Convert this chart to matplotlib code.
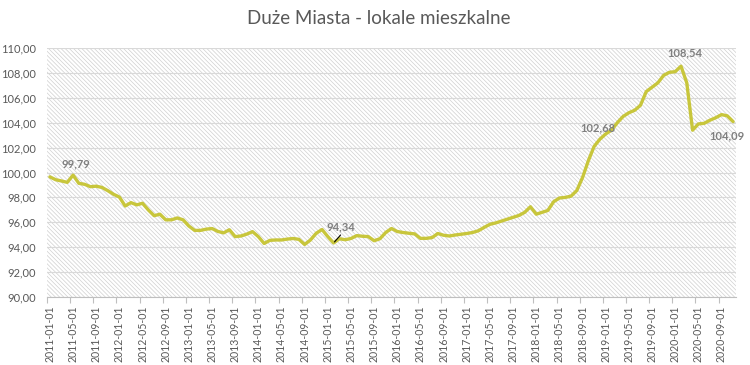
import matplotlib
matplotlib.use("Agg")
import matplotlib.pyplot as plt
from matplotlib.patches import Rectangle
import pandas as pd

plt.rcParams['font.family'] = ['Lato', 'DejaVu Sans']
plt.rcParams['hatch.linewidth'] = 0.5

title = "Duże Miasta - lokale mieszkalne"
dates = pd.date_range('2011-01-01', periods=119, freq='MS')
values = [
    99.65, 99.42, 99.32, 99.21, 99.79, 99.13, 99.05, 98.86, 98.90, 98.80,
    98.54, 98.25, 98.03, 97.31, 97.58, 97.40, 97.53, 96.99, 96.53, 96.65,
    96.20, 96.20, 96.35, 96.20, 95.70, 95.35, 95.35, 95.45, 95.50, 95.27,
    95.15, 95.40, 94.85, 94.90, 95.05, 95.25, 94.85, 94.30, 94.55, 94.58,
    94.58, 94.65, 94.70, 94.63, 94.22, 94.58, 95.12, 95.42, 94.85, 94.34,
    94.68, 94.60, 94.70, 94.93, 94.88, 94.85, 94.52, 94.68, 95.18, 95.50,
    95.26, 95.18, 95.12, 95.07, 94.71, 94.71, 94.77, 95.10, 94.96, 94.90,
    94.98, 95.04, 95.10, 95.18, 95.32, 95.59, 95.84, 95.95, 96.10, 96.25,
    96.40, 96.55, 96.80, 97.25, 96.65, 96.80, 96.95, 97.65, 97.95, 98.00,
    98.10, 98.55, 99.60, 100.95, 102.10, 102.68, 103.10, 103.40, 104.00, 104.50,
    104.80, 105.00, 105.40, 106.50, 106.85, 107.20, 107.80, 108.05, 108.10, 108.54,
    107.20, 103.40, 103.90, 103.95, 104.20, 104.40, 104.65, 104.55, 104.09,
]
# punkty z etykietami: indeks -> przesuniecie etykiety w pikselach
labelled = [4, 49, 95, 109, 118]
label_offsets = {4: (3, 11), 49: (7, 16), 95: (-2, 11), 109: (4, 13), 118: (-6, -14)}

gray = '#595959'
line_color = '#c8c63c'

fig = plt.figure(figsize=(7.5, 3.65), dpi=100)
ax = fig.add_axes([47 / 750, 68 / 365, 689 / 750, 249 / 365])

x = list(range(len(values)))
ax.add_patch(Rectangle((0, 0), 1, 1, transform=ax.transAxes, facecolor='white',
                       edgecolor='#d0d0d0', hatch='\\' * 8, lw=0, zorder=0))
ax.plot(x, values, color=line_color, lw=2.4, solid_joinstyle='round',
        solid_capstyle='round', zorder=3)

for i in labelled:
    dx, dy = label_offsets[i]
    txt = f"{values[i]:.2f}".replace('.', ',')
    ax.annotate(txt, (i, values[i]), xytext=(dx, dy), textcoords='offset pixels',
                ha='center', va='center', fontsize=8, fontweight='bold',
                color='#7f7f7f', zorder=4, annotation_clip=False)
# linia odniesienia dla 94,34
ax.annotate('', (49, values[49]), xytext=(7, 8), textcoords='offset pixels',
            arrowprops=dict(arrowstyle='-', color='black', lw=0.8,
                            shrinkA=0, shrinkB=1), zorder=4)

ax.set_xlim(-0.5, len(values) - 0.5)
ax.set_ylim(90, 110)
ax.set_yticks(range(90, 111, 2))
ax.set_yticklabels([f"{v},00" for v in range(90, 111, 2)])
ax.grid(axis='y', color='#d9d9d9', lw=0.8)
ax.set_axisbelow(True)

tick_idx = list(range(0, len(values), 4))
ax.set_xticks(tick_idx)
ax.set_xticklabels([dates[i].strftime('%Y-%m-%d') for i in tick_idx], rotation=90)
ax.set_xticks([i - 0.5 for i in tick_idx], minor=True)
ax.tick_params(axis='x', which='major', length=0, pad=6, labelsize=7.6, labelcolor=gray)
ax.tick_params(axis='x', which='minor', length=4, color='#bfbfbf', width=0.8)
ax.tick_params(axis='y', length=0, pad=8, labelsize=8, labelcolor=gray)

for s in ['top', 'right', 'left']:
    ax.spines[s].set_visible(False)
ax.spines['bottom'].set_color('#bfbfbf')
ax.spines['bottom'].set_linewidth(0.8)

fig.text(0.505, 1 - 19 / 365, title, ha='center', va='center', fontsize=13.5,
         color=gray)

fig.savefig('out.png', dpi=100)
